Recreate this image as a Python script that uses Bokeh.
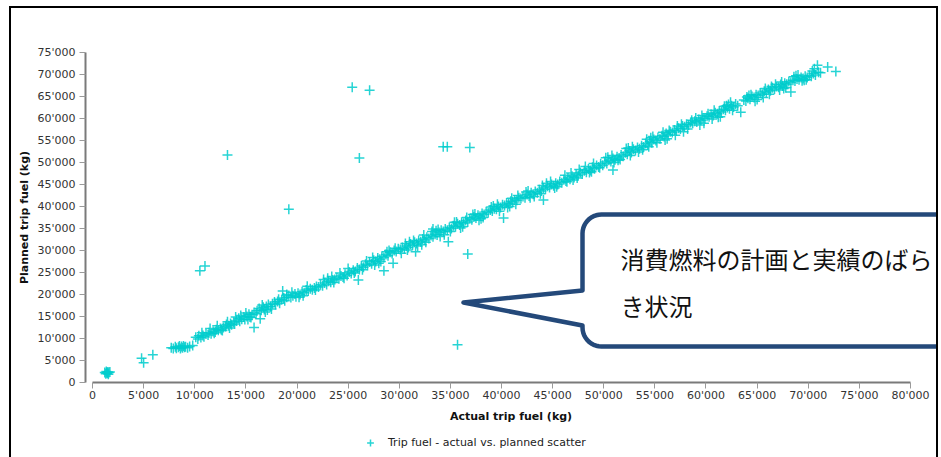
import numpy as np
from bokeh.plotting import figure
from bokeh.layouts import column
from bokeh.models import (Range1d, FixedTicker, Legend, LegendItem, PolyAnnotation,
                          Label, ColumnDataSource)
from bokeh.embed import file_html
from bokeh.resources import INLINE

# ---------------- data ----------------
actual_fuel_kg = [
    1200, 1300, 1350, 1400, 1450, 1500, 1550, 1600, 1700,
    4800, 5000, 5900,
    7700, 7900, 8100, 8200, 8400, 8500, 8600, 8700, 8800, 8900, 9000, 9100, 9300, 9500, 9800,
    10100, 10300, 10400, 10600, 10800, 10900, 11100, 11300, 11400, 11600, 11800, 12000,
    12100, 12300, 12500, 12600, 12800, 13000, 13100, 13300, 13500, 13600, 13800, 13900,
    14100, 14300, 14400, 14600, 14800, 14900, 15100, 15300, 15400, 15600, 15800, 16000,
    16100, 16300, 16500, 16700, 16800, 17000, 17200, 17400, 17600, 17800, 17900,
    18100, 18300, 18500, 18700, 18800, 19000, 19200, 19400, 19600, 19800, 19900, 20100,
    20300, 20500, 20700, 20900, 21100, 21300, 21500, 21700, 21900,
    22100, 22300, 22500, 22700, 22900, 23100, 23300, 23500, 23700, 23900, 24100, 24300,
    24500, 24700, 24900, 25100, 25300, 25500, 25700, 25900,
    26100, 26300, 26500, 26700, 26900, 27100, 27300, 27500, 27700, 27900, 28100, 28300,
    28500, 28700, 28900, 29100, 29300, 29500, 29700, 29900,
    30100, 30300, 30500, 30700, 30900, 31100, 31300, 31500, 31700, 31900, 32100, 32300,
    32500, 32700, 32900, 33100, 33300, 33500, 33700, 33900,
    34100, 34300, 34500, 34700, 34900, 35100, 35300, 35500, 35700, 35900, 36100, 36300,
    36500, 36700, 36900, 37100, 37300, 37500, 37700, 37900,
    38100, 38300, 38500, 38700, 38900, 39100, 39300, 39500, 39700, 39900, 40100, 40300,
    40500, 40700, 40900, 41100, 41300, 41500, 41700, 41900,
    42100, 42300, 42500, 42700, 42900, 43100, 43300, 43500, 43700, 43900, 44100, 44300,
    44500, 44700, 44900, 45100, 45300, 45500, 45700, 45900,
    46100, 46300, 46500, 46700, 46900, 47100, 47300, 47500, 47700, 47900, 48100, 48300,
    48500, 48700, 48900, 49100, 49300, 49500, 49700, 49900,
    50100, 50300, 50500, 50700, 50900, 51100, 51300, 51500, 51700, 51900, 52100, 52300,
    52500, 52700, 52900, 53100, 53300, 53500, 53700, 53900,
    54100, 54300, 54500, 54700, 54900, 55100, 55300, 55500, 55700, 55900, 56100, 56300,
    56500, 56700, 56900, 57100, 57300, 57500, 57700, 57900,
    58100, 58300, 58500, 58700, 58900, 59100, 59300, 59500, 59700, 59900, 60100, 60300,
    60500, 60700, 60900, 61100, 61300, 61500, 61700, 61900,
    62100, 62300, 62500, 62700, 62900, 63100, 63700, 63900, 64100, 64300, 64500, 64700,
    64900, 65100, 65300, 65500, 65700, 65900,
    66100, 66300, 66500, 66700, 66900, 67100, 67300, 67500, 67700, 67900, 68100, 68300,
    68500, 68700, 68900, 69100, 69300, 69500, 69700, 69900, 70100, 70300, 70500, 70700, 71000,
    12200, 13400, 15000, 16900, 19500, 20600, 23400, 24600, 27600, 28800, 30600, 31800,
    33600, 35000, 36600, 38200, 39600, 40800, 42400, 43800, 44800, 46400, 47600, 48800,
    50400, 51600, 52800, 53800, 54600, 56000, 57200, 58200, 59600, 60600, 61800, 62600,
    64400, 65600, 66800, 67800, 68800, 69800, 70400,
    10700, 11900, 13200, 14500, 15500, 17100, 18200, 21000, 21800, 23000, 24200, 25600,
    26800, 28200, 29600, 30800, 31400, 32600, 33800, 34400, 35600, 36200, 37400, 38000,
    39200, 40600, 41600, 42800, 44000, 45400, 46800, 47400, 49000, 49600, 50800, 51400,
    52400, 53400, 54800, 55200, 56400, 57000, 58600, 59400, 60200, 61200, 62000, 64000,
    65000, 66400, 67200, 68600, 69400, 70600, 71200,
    11500, 12700, 14000, 15200, 16600, 17500, 19000, 20200, 22600, 23600, 25000, 26400,
    27400, 28000, 29000, 30200, 31000, 32200, 33200, 34000, 35400, 36000, 37200, 37800,
    39000, 39800, 41000, 41400, 42600, 43200, 44400, 45200, 46200, 47000, 48200, 48600,
    50200, 51000, 52200, 52600, 54200, 54400, 55800, 56200, 57600, 57800, 59000, 59800,
    60800, 61400, 62200, 64200, 64800, 65800, 66200, 67400, 67600, 69000, 69600,
    10500, 11000, 13200, 19200, 26100, 25400, 27100, 34300, 34700, 36900, 36700, 35700,
    15800, 16400, 18600, 26000, 28500, 29400, 31600, 32400, 33300, 34800, 40200, 44100,
    50900, 62400, 63400, 68300, 70900, 71900, 72700,
]
planned_fuel_kg = [
    2300, 2000, 2500, 2200, 2100, 2400, 1900, 2300, 2400,
    5500, 4500, 6300,
    7900, 7700, 8100, 7800, 8000, 8300, 7700, 8200, 7900, 8300, 8000, 8100, 7900, 8200, 8400,
    10300, 9900, 10600, 10200, 10700, 10400, 11000, 10800, 11300, 11100, 11600, 11500,
    12000, 11900, 12300, 12000, 12500, 12700, 13200, 12900, 13400, 13100, 13700, 13300,
    14000, 14600, 13900, 14400, 14900, 14300, 15000, 15500, 14900, 15400, 15900, 15600,
    16300, 16800, 16400, 17100, 16600, 17300, 17700, 17200, 17900, 18300, 17700,
    18400, 18000, 18800, 19200, 18600, 19400, 19800, 19300, 19700, 20100, 19500, 20300,
    20000, 20600, 20400, 21000, 20800, 21300, 21100, 21500, 21800,
    21700, 22200, 22000, 22600, 22300, 23000, 22800, 23300, 23400, 23800, 23600, 24200,
    24000, 24600, 24300, 25100, 24800, 25500, 25200, 26000,
    25700, 26500, 26200, 26900, 26600, 27400, 27000, 27800, 27500, 28300, 28000, 28700,
    28400, 29100, 28800, 29600, 29300, 30000, 29800, 30400,
    30200, 30700, 30400, 31000, 30700, 31500, 31200, 31900, 31600, 32300, 32000, 32600,
    32400, 33000, 32700, 33400, 33100, 33700, 33500, 34100,
    34600, 34300, 34900, 34600, 35200, 35000, 35600, 35400, 36100, 35800, 36400, 36200,
    36800, 36500, 37200, 37000, 37600, 37400, 38000, 37800,
    38400, 38200, 38800, 38600, 39200, 39000, 39500, 39400, 40000, 39800, 40400, 40200,
    40800, 40600, 41200, 41000, 41500, 41400, 42000, 41800,
    42300, 42000, 42700, 42400, 43100, 42800, 43400, 43100, 43800, 43500, 44200, 43900,
    44600, 44300, 45000, 44700, 45300, 45000, 45700, 45400,
    46100, 45800, 46500, 46200, 46900, 46600, 47300, 47000, 47700, 47400, 48100, 47800,
    48500, 48200, 48900, 48600, 49300, 49000, 49700, 49400,
    50100, 49800, 50500, 50200, 50900, 50600, 51300, 51000, 51700, 51400, 52200, 51900,
    52600, 52300, 53000, 52700, 53400, 53100, 53800, 53500,
    54300, 54000, 54800, 54500, 55200, 55000, 55700, 55400, 56100, 55900, 56600, 56300,
    57000, 56800, 57400, 57200, 57800, 57600, 58300, 58100,
    58700, 58500, 59100, 58900, 59400, 59200, 59800, 59600, 60100, 60000, 60500, 60400,
    60900, 60700, 61300, 61100, 61700, 61500, 62100, 61900,
    62500, 62200, 62900, 62600, 63300, 62900, 64200, 64000, 64600, 64400, 65000, 64800,
    65400, 65200, 65800, 65500, 66200, 65900,
    66600, 66300, 67000, 66700, 67300, 67100, 67700, 67400, 68000, 67800, 68400, 68200,
    68700, 68500, 69000, 68800, 69300, 69100, 69600, 69300, 69800, 69600, 70200, 69900, 70500,
    12900, 12400, 15800, 16000, 20500, 19700, 24100, 23700, 26700, 29700, 31600, 31000,
    34500, 34300, 37500, 37500, 40500, 40000, 43300, 42900, 45700, 45600, 48400, 47900,
    51200, 50700, 53600, 52900, 55600, 55100, 58300, 57600, 60700, 59900, 62800, 61900,
    65400, 64800, 67800, 67000, 69700, 68800, 70800,
    11300, 11200, 13800, 15200, 14800, 16500, 18900, 21900, 21000, 23700, 24900, 24900,
    27600, 27500, 30500, 30100, 32300, 31900, 34800, 33600, 36500, 35400, 38300, 37200,
    40100, 39800, 42500, 42000, 44800, 44500, 47600, 46500, 49800, 48800, 51600, 50500,
    53300, 52400, 55900, 54500, 57300, 56200, 59600, 58500, 61100, 60300, 62900, 64900,
    64300, 67300, 66500, 69500, 68600, 71300, 70400,
    12300, 11800, 14900, 14300, 17600, 16700, 20000, 19400, 23400, 22700, 25900, 25600,
    28400, 27100, 30000, 29400, 32000, 31300, 34300, 33200, 36400, 35100, 38200, 36900,
    39900, 38900, 41900, 40500, 43500, 42300, 45300, 44200, 47100, 46000, 49100, 47700,
    51100, 50000, 53200, 51600, 55300, 53600, 56900, 55400, 58700, 57000, 60100, 58900,
    61900, 60400, 63200, 65200, 63900, 66800, 65500, 68300, 66800, 69900, 68700,
    25400, 26500, 51700, 39400, 51000, 67100, 66400, 53600, 53600, 53400, 29200, 8600,
    12500, 14500, 20800, 23300, 25400, 27100, 29700, 33500, 34900, 32000, 37400, 41500,
    48300, 63700, 61400, 66000, 72100, 71700, 70700,
]
series_label = "Trip fuel - actual vs. planned scatter"

x_ticks = [0, 5000, 10000, 15000, 20000, 25000, 30000, 35000, 40000,
           45000, 50000, 55000, 60000, 65000, 70000, 75000, 80000]
x_tick_labels = ["0", "5'000", "10'000", "15'000", "20'000", "25'000", "30'000", "35'000",
                 "40'000", "45'000", "50'000", "55'000", "60'000", "65'000", "70'000",
                 "75'000", "80'000"]
y_ticks = [0, 5000, 10000, 15000, 20000, 25000, 30000, 35000, 40000,
           45000, 50000, 55000, 60000, 65000, 70000, 75000]
y_tick_labels = ["0", "5'000", "10'000", "15'000", "20'000", "25'000", "30'000", "35'000",
                 "40'000", "45'000", "50'000", "55'000", "60'000", "65'000", "70'000",
                 "75'000"]

callout_lines = ["消費燃料の計画と実績のばら", "き状況"]

MARKER = dict(marker="cross", size=10, line_color="#00CCCC", line_width=1.5, line_alpha=0.85)

# ---------------- main figure ----------------
W, H1, H2 = 925, 417, 32
p = figure(width=W, height=H1, x_range=Range1d(-685, 82543), y_range=Range1d(0, 75000),
           output_backend="svg", toolbar_location=None,
           min_border_left=74, min_border_right=0, min_border_top=44, min_border_bottom=42)
p.background_fill_color = "white"
p.border_fill_color = "white"
p.outline_line_color = None
p.xgrid.visible = False
p.ygrid.visible = False

src = ColumnDataSource(dict(x=actual_fuel_kg, y=planned_fuel_kg))
r = p.scatter("x", "y", source=src, **MARKER)

for ax in (p.xaxis[0], p.yaxis[0]):
    ax.axis_line_color = "#7a7a7a"
    ax.axis_line_width = 2
    ax.major_tick_line_color = "#9a9a9a"
    ax.major_tick_out = 6
    ax.major_tick_in = 0
    ax.minor_tick_line_color = None
    ax.major_label_text_font = "DejaVu Sans"
    ax.major_label_text_font_size = "11px"
    ax.major_label_text_color = "#333333"
    ax.axis_label_text_font = "DejaVu Sans"
    ax.axis_label_text_font_size = "11px"
    ax.axis_label_text_font_style = "bold"
    ax.axis_label_text_color = "#111111"

p.xaxis.ticker = FixedTicker(ticks=x_ticks)
p.xaxis.major_label_overrides = dict(zip(x_ticks, x_tick_labels))
p.xaxis.bounds = (0, 80000)
p.xaxis.axis_label = "Actual trip fuel (kg)"
p.xaxis.major_label_standoff = 0
p.xaxis.axis_label_standoff = 5

p.yaxis.ticker = FixedTicker(ticks=y_ticks)
p.yaxis.major_label_overrides = dict(zip(y_ticks, y_tick_labels))
p.yaxis.bounds = (0, 75000)
p.yaxis.axis_label = "Planned trip fuel (kg)"
p.yaxis.major_label_standoff = 4
p.yaxis.axis_label_standoff = 3

# speech-bubble callout (canvas pixel units)
L, T, B, R, rad = 571, 206, 338, 1000, 19
tip = (452, 294)
a1 = np.linspace(np.pi, 1.5 * np.pi, 12)
a2 = np.linspace(0.5 * np.pi, np.pi, 12)
xs = [tip[0], L, L] + list(L + rad + rad * np.cos(a1)) + [R, R] \
     + list(L + rad + rad * np.cos(a2)) + [L, L]
ys = [tip[1], 282, T + rad] + list(T + rad + rad * np.sin(a1)) + [T, B] \
     + list(B - rad + rad * np.sin(a2)) + [B - rad, 317]
callout = PolyAnnotation(xs=xs, ys=ys, xs_units="canvas", ys_units="canvas",
                         fill_color="white", fill_alpha=1.0,
                         line_color="#24497A", line_alpha=1.0, line_width=4.5,
                         line_join="round")
p.add_layout(callout)

for txt, cy in zip(callout_lines, [250, 297]):
    p.add_layout(Label(x=609, y=cy, x_units="canvas", y_units="canvas", text=txt,
                       text_font="Noto Sans CJK JP", text_font_size="24px",
                       text_baseline="middle", text_align="left", text_color="#111111"))

# ---------------- legend strip (same series, only its legend is visible here) ----------------
q = figure(width=W, height=H2, x_range=Range1d(0, 1), y_range=Range1d(0, 1),
           output_backend="svg", toolbar_location=None,
           x_axis_type=None, y_axis_type=None,
           min_border_left=0, min_border_right=0, min_border_top=0, min_border_bottom=0)
q.background_fill_color = "white"
q.border_fill_color = "white"
q.outline_line_color = None
q.xgrid.visible = False
q.ygrid.visible = False
r_leg = q.scatter("x", "y", source=src, **MARKER)
legend = Legend(items=[LegendItem(label=series_label, renderers=[r_leg])],
                location=(276, 6), orientation="horizontal",
                border_line_color=None, background_fill_alpha=0,
                padding=0, margin=0, spacing=0,
                glyph_width=18, glyph_height=17, label_height=17, label_standoff=9,
                label_text_font="DejaVu Sans", label_text_font_size="11px",
                label_text_color="#222222")
q.add_layout(legend)

layout = column(p, q, spacing=0)
layout.styles = {"margin-left": "9px", "margin-top": "6px",
                 "border-left": "2px solid black", "border-top": "2px solid black",
                 "border-right": "2px solid black"}

open("out.html", "w").write(file_html(layout, INLINE))
